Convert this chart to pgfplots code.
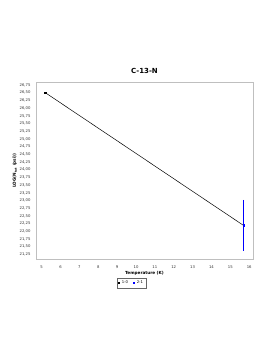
\documentclass[border=0pt]{standalone}
\usepackage{pgfplots}
\pgfplotsset{compat=1.18}
\usepackage{fontspec}
\setmainfont{DejaVu Sans}
\begin{document}
\begin{tikzpicture}[x=1bp,y=1bp]
\path[use as bounding box] (0,0) rectangle (274,355);
\begin{axis}[
  at={(36bp,96bp)}, anchor=south west,
  scale only axis, width=217bp, height=177bp,
  xmin=4.7, xmax=16.2, ymin=21.1, ymax=26.85,
  xtick={5,6,...,16},
  ytick={21.25,21.5,...,26.75},
  axis line style={draw=black!25, line width=0.8pt},
  major tick length=0pt,
  tick label style={font=\fontsize{3.8}{4}\selectfont, text=black!80},
  /pgf/number format/.cd, assume math mode=true, use comma, fixed, fixed zerofill, precision=2,
  /pgfplots/.cd,
  xticklabel={\pgfmathprintnumber[fixed, precision=0]{\tick}},
  xticklabel style={yshift=-3bp},
  yticklabel style={xshift=-2bp},
  title={\textbf{C-13-N}},
  title style={font=\fontsize{7}{8}\selectfont, yshift=-1bp},
  xlabel={\textbf{Temperature (K)}},
  ylabel={\textbf{LOG(N$_{\mathbf{tot}}$ (psi))}},
  xlabel style={font=\fontsize{4.2}{5}\selectfont, yshift=4bp},
  ylabel style={font=\fontsize{4.2}{5}\selectfont, yshift=-4bp},
  legend style={at={(0.44,-0.105)}, anchor=north, legend columns=2, font=\fontsize{3.8}{4.5}\selectfont, draw=black!60, inner sep=1pt, row sep=0pt, /tikz/every even column/.append style={column sep=3bp}},
  legend image code/.code={\fill[#1] (0.1cm-0.7bp,-0.7bp) rectangle (0.1cm+0.7bp,0.7bp);},
]
\addplot[black, line width=0.5pt, forget plot] coordinates {(5.2,26.5) (15.7,22.19)};
\addplot[only marks, mark=square*, mark size=0.8bp, black, fill=black] coordinates {(5.2,26.5)};
\addlegendentry{1-0}
\addplot[only marks, mark=square*, mark size=0.8bp, blue, fill=blue,
  error bars/.cd, y dir=both, y explicit, error bar style={blue, line width=0.6pt}, error mark=none]
  coordinates {(15.7,22.19) +- (0,0.83)};
\addlegendentry{2-1}
\end{axis}
\end{tikzpicture}
\end{document}
